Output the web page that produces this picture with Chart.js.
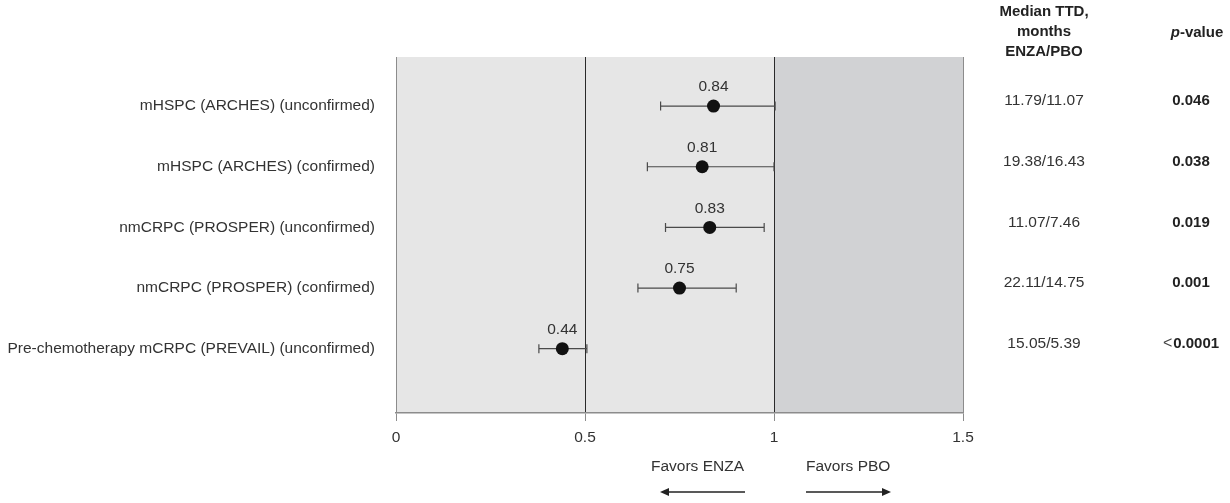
<!DOCTYPE html>
<html>
<head>
<meta charset="utf-8">
<script src="https://cdn.jsdelivr.net/npm/chart.js@4.4.0/dist/chart.umd.min.js"></script>
<style>
  html, body { margin: 0; padding: 0; background: #fff; }
  #wrap { width: 1230px; height: 503px; }
</style>
</head>
<body>
<div id="wrap"><canvas id="forestChart" width="1230" height="503"></canvas></div>
<script>
// Forest plot data
const subgroups = [
  'mHSPC (ARCHES) (unconfirmed)',
  'mHSPC (ARCHES) (confirmed)',
  'nmCRPC (PROSPER) (unconfirmed)',
  'nmCRPC (PROSPER) (confirmed)',
  'Pre-chemotherapy mCRPC (PREVAIL) (unconfirmed)',
];
const hazardRatios = [0.84, 0.81, 0.83, 0.75, 0.44];
const ciLower = [0.70, 0.665, 0.713, 0.64, 0.378];
const ciUpper = [1.003, 1.0, 0.974, 0.90, 0.505];
const medianTTD = ['11.79/11.07', '19.38/16.43', '11.07/7.46', '22.11/14.75', '15.05/5.39'];
const pValues = ['0.046', '0.038', '0.019', '0.001', '<0.0001'];
const xTicks = [0, 0.5, 1, 1.5];

const FONT = "'Liberation Sans', Arial, Helvetica, sans-serif";
const FS = 15.5;
const TEXT_COLOR = '#333';
const EDGE_GREY = '#8c8c8c';

// Shaded regions behind the plot: favours ENZA (0-1) and favours PBO (1-1.5)
const shadePlugin = {
  id: 'shade',
  beforeDraw(chart) {
    const { ctx, chartArea, scales } = chart;
    const x0 = scales.x.getPixelForValue(0);
    const x1 = scales.x.getPixelForValue(1);
    const x2 = scales.x.getPixelForValue(1.5);
    ctx.save();
    ctx.fillStyle = '#e6e6e6';
    ctx.fillRect(x0, chartArea.top, x1 - x0, chartArea.bottom - chartArea.top);
    ctx.fillStyle = '#d1d2d4';
    ctx.fillRect(x1, chartArea.top, x2 - x1, chartArea.bottom - chartArea.top);
    ctx.restore();
  },
};

// Confidence interval whiskers with end caps
const errorBarPlugin = {
  id: 'errorBars',
  beforeDatasetsDraw(chart) {
    const { ctx, scales } = chart;
    ctx.save();
    ctx.strokeStyle = '#4a4a4a';
    ctx.lineWidth = 1.2;
    hazardRatios.forEach((_, i) => {
      const y = scales.y.getPixelForValue(i + 1);
      const xl = scales.x.getPixelForValue(ciLower[i]);
      const xu = scales.x.getPixelForValue(ciUpper[i]);
      ctx.beginPath();
      ctx.moveTo(xl, y);
      ctx.lineTo(xu, y);
      ctx.moveTo(xl, y - 4.5);
      ctx.lineTo(xl, y + 4.5);
      ctx.moveTo(xu, y - 4.5);
      ctx.lineTo(xu, y + 4.5);
      ctx.stroke();
    });
    ctx.restore();
  },
};

function drawArrow(ctx, from, to, y) {
  const dir = Math.sign(to - from);
  ctx.beginPath();
  ctx.moveTo(from, y);
  ctx.lineTo(to - dir * 6, y);
  ctx.stroke();
  ctx.beginPath();
  ctx.moveTo(to, y);
  ctx.lineTo(to - dir * 9, y - 4);
  ctx.lineTo(to - dir * 9, y + 4);
  ctx.closePath();
  ctx.fill();
}

// Value labels, right-hand table columns and footer annotations
const annotationPlugin = {
  id: 'annotations',
  afterDatasetsDraw(chart) {
    const { ctx, scales } = chart;
    const medX = 1044;
    const pX = 1191;
    ctx.save();
    ctx.fillStyle = TEXT_COLOR;
    ctx.textBaseline = 'middle';

    // HR labels above the markers
    ctx.font = `${FS}px ${FONT}`;
    ctx.textAlign = 'center';
    hazardRatios.forEach((v, i) => {
      const x = scales.x.getPixelForValue(v);
      const y = scales.y.getPixelForValue(i + 1);
      ctx.fillText(v.toFixed(2), x, y - 19);
    });

    // Column headers
    ctx.font = `bold 15px ${FONT}`;
    ctx.fillStyle = '#222';
    ctx.fillText('Median TTD,', medX, 12);
    ctx.fillText('months', medX, 32);
    ctx.fillText('ENZA/PBO', medX, 52);
    const valueW = ctx.measureText('-value').width;
    ctx.font = `italic bold 15px ${FONT}`;
    const pW = ctx.measureText('p').width;
    const hLeft = 1197 - (valueW + pW) / 2;
    ctx.textAlign = 'left';
    ctx.fillText('p', hLeft, 33);
    ctx.font = `bold 15px ${FONT}`;
    ctx.fillText('-value', hLeft + pW, 33);

    // Table rows
    medianTTD.forEach((m, i) => {
      const y = scales.y.getPixelForValue(i + 1) - 5;
      ctx.fillStyle = TEXT_COLOR;
      ctx.font = `${FS}px ${FONT}`;
      ctx.textAlign = 'center';
      ctx.fillText(m, medX, y);
      const p = pValues[i];
      ctx.fillStyle = '#222';
      ctx.textAlign = 'left';
      if (p.startsWith('<')) {
        const num = p.slice(1);
        ctx.font = `bold 15px ${FONT}`;
        const w = ctx.measureText(num).width;
        ctx.font = `16px ${FONT}`;
        const lw = ctx.measureText('<').width;
        const left = pX - (w + lw + 1) / 2;
        ctx.fillStyle = '#444';
        ctx.fillText('<', left, y);
        ctx.fillStyle = '#222';
        ctx.font = `bold 15px ${FONT}`;
        ctx.fillText(num, left + lw + 1, y);
      } else {
        ctx.font = `bold 15px ${FONT}`;
        ctx.textAlign = 'center';
        ctx.fillText(p, pX, y);
      }
    });

    // Favours annotations with arrows
    const xOne = scales.x.getPixelForValue(1);
    ctx.fillStyle = TEXT_COLOR;
    ctx.font = `${FS}px ${FONT}`;
    ctx.textAlign = 'right';
    ctx.fillText('Favors ENZA', xOne - 30, 467);
    ctx.textAlign = 'left';
    ctx.fillText('Favors PBO', xOne + 32, 467);
    ctx.strokeStyle = '#222';
    ctx.fillStyle = '#222';
    ctx.lineWidth = 1.4;
    drawArrow(ctx, xOne - 29, xOne - 114, 492);
    drawArrow(ctx, xOne + 32, xOne + 117, 492);
    ctx.restore();
  },
};

const ctx = document.getElementById('forestChart').getContext('2d');
new Chart(ctx, {
  type: 'scatter',
  data: {
    datasets: [{
      data: hazardRatios.map((v, i) => ({ x: v, y: i + 1 })),
      backgroundColor: '#111',
      borderWidth: 0,
      pointRadius: 6.5,
      pointHoverRadius: 6.5,
    }],
  },
  options: {
    responsive: false,
    animation: false,
    devicePixelRatio: 1,
    layout: { padding: { left: 0, right: 267, top: 57, bottom: 0 } },
    plugins: { legend: { display: false }, tooltip: { enabled: false } },
    scales: {
      x: {
        type: 'linear',
        min: 0,
        max: 1.5,
        afterBuildTicks: s => { s.ticks = xTicks.map(v => ({ value: v })); },
        afterFit: s => { s.height = 90; },
        ticks: {
          color: TEXT_COLOR,
          font: { family: FONT, size: FS },
          padding: 7,
          maxRotation: 0,
          callback: v => String(v),
        },
        grid: {
          color: c => (c.tick && (c.tick.value === 0.5 || c.tick.value === 1)) ? '#2a2a2a' : EDGE_GREY,
          tickColor: EDGE_GREY,
          tickLength: 8,
          lineWidth: 1,
        },
        border: { color: EDGE_GREY, width: 1.5 },
      },
      y: {
        type: 'linear',
        min: 0.19,
        max: 6.06,
        reverse: true,
        afterBuildTicks: s => { s.ticks = subgroups.map((_, i) => ({ value: i + 1 })); },
        afterFit: s => { s.width = 396; },
        ticks: {
          color: TEXT_COLOR,
          font: { family: FONT, size: FS },
          padding: 21,
          callback: v => subgroups[v - 1],
        },
        grid: { display: false, drawTicks: false },
        border: { display: false },
      },
    },
  },
  plugins: [shadePlugin, errorBarPlugin, annotationPlugin],
});
</script>
</body>
</html>
